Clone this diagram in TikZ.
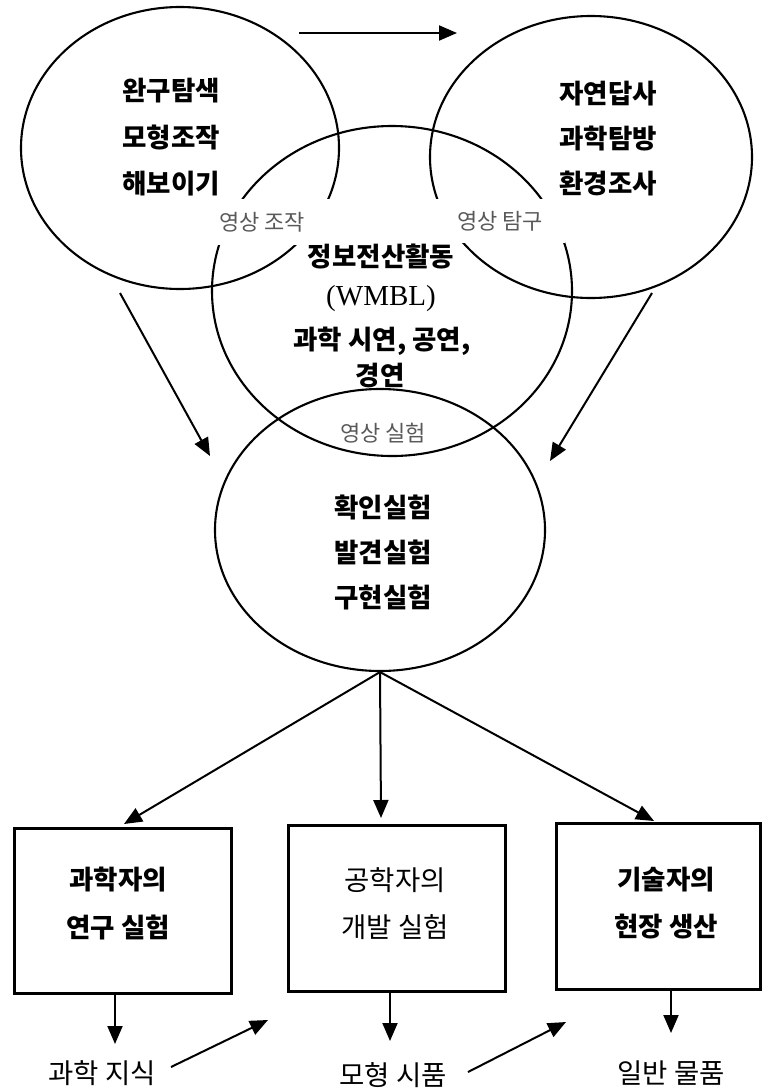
\documentclass[tikz,border=0pt]{standalone}
\usepackage{fontspec}
\usetikzlibrary{arrows.meta,shapes.geometric}
\newfontfamily\kr{Noto Sans CJK KR}
\newfontfamily\wm{Liberation Serif}
\begin{document}
\begin{tikzpicture}[x=1pt,y=-1pt,
  ell/.style={draw, ellipse, line width=2.1pt, inner sep=0pt},
  box/.style={draw, rectangle, line width=3pt, inner sep=0pt},
  arr/.style={line width=2pt, -{Triangle[length=18pt,width=15pt]}},
  big/.style={font=\kr\bfseries\fontsize{26.5}{26.5}\selectfont, inner sep=0pt},
  reg/.style={font=\kr\fontsize{27.5}{27.5}\selectfont, inner sep=0pt},
  lab/.style={font=\kr\fontsize{22}{22}\selectfont, text=black!65, fill=white, inner sep=0pt}
]
\useasboundingbox (0,0) rectangle (763,1090);
% ellipses
\node[ell, minimum width=318pt, minimum height=282pt] (e1) at (180,148) {};
\node[ell, minimum width=322pt, minimum height=282pt] (e2) at (591,157) {};
\node[ell, minimum width=360pt, minimum height=330pt] (e3) at (392,291) {};
% labels cutting lines
\node[lab, minimum width=136pt, minimum height=46pt] (l1) at (272,222) {\hspace*{-20pt}영상 조작};
\node[lab, minimum width=130pt, minimum height=44pt] (l2) at (500,221) {영상 탐구};
% texts
\node[big] (t1a) at (171,91) {완구탐색};
\node[big] (t1b) at (171,137) {모형조작};
\node[big] (t1c) at (171,184) {해보이기};
\node[big] (t2a) at (608,94) {자연답사};
\node[big] (t2b) at (608,139) {과학탐방};
\node[big] (t2c) at (608,184) {환경조사};
\node[big] (t3a) at (381,257) {정보전산활동};
\node[font=\wm\fontsize{29}{29}\selectfont, inner sep=0pt] (t3b) at (381,299) {(WMBL)};
\node[big] (t3c) at (382,341) {과학 시연, 공연,};
\node[big] (t3d) at (380,376) {경연};
% bottom ellipse
\node[ell, minimum width=330pt, minimum height=282pt] (e4) at (380,530) {};
\node[lab, fill=none] (l3) at (383,433) {영상 실험};
\node[big] (t4a) at (383,507) {확인실험};
\node[big] (t4b) at (383,552) {발견실험};
\node[big] (t4c) at (383,597) {구현실험};
% top arrows
\coordinate (a0) at (299,33);
\coordinate (a1) at (457,33);
\draw[arr] (a0) -- (a1);
\coordinate (a2) at (120,293);
\coordinate (a3) at (210,456);
\draw[arr] (a2) -- (a3);
\coordinate (a4) at (652,293);
\coordinate (a5) at (550,461);
\draw[arr] (a4) -- (a5);
% boxes
\node[box, minimum width=217pt, minimum height=165pt] (b1) at (122.5,910.5) {};
\node[box, minimum width=217pt, minimum height=166pt] (b2) at (396.5,908) {};
\node[box, minimum width=204pt, minimum height=166pt] (b3) at (658,906) {};
\node[big] at (118,880) {과학자의};
\node[big] at (118,927) {연구 실험};
\node[reg] at (395,880) {공학자의};
\node[reg] at (395,927) {개발 실험};
\node[big] at (666,880) {기술자의};
\node[big] at (666,927) {현장 생산};
% arrows from bottom ellipse
\coordinate (p1) at (124,824);
\coordinate (p2) at (381,818);
\coordinate (p3) at (654,821);
\draw[arr] (e4.south) -- (p1);
\draw[arr] (e4.south) -- (p2);
\draw[arr] (e4.south) -- (p3);
% outputs
\node[reg] (o1) at (102,1073) {과학 지식};
\node[reg] (o2) at (393,1075) {모형 시품};
\node[reg] (o3) at (671,1073) {일반 물품};
\coordinate (q1) at (115,1044);
\coordinate (q2) at (390,1041);
\coordinate (q3) at (671,1033);
\draw[arr] (b1.south -| q1) -- (q1);
\draw[arr] (b2.south -| q2) -- (q2);
\draw[arr] (b3.south -| q3) -- (q3);
\coordinate (s1) at (171,1067);
\coordinate (r1) at (268,1020);
\coordinate (s2) at (468,1072);
\coordinate (r2) at (566,1022);
\draw[arr] (s1) -- (r1);
\draw[arr] (s2) -- (r2);
\end{tikzpicture}
\end{document}
